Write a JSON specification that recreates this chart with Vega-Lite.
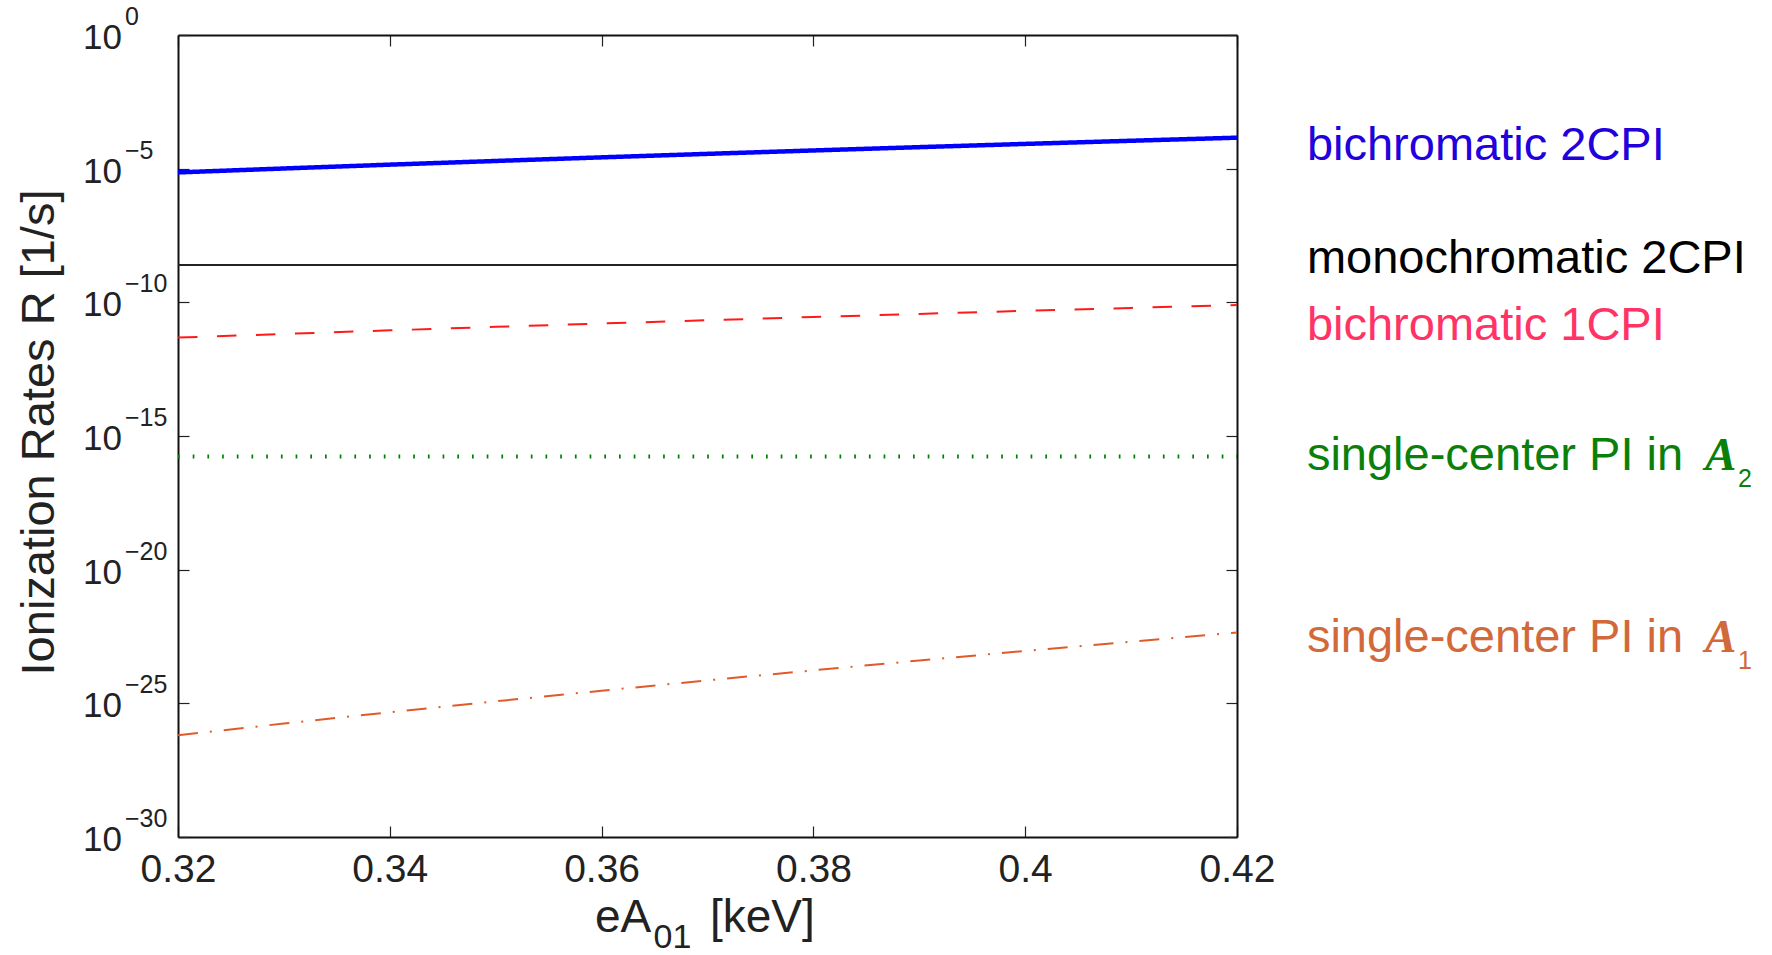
{
  "$schema": "https://vega.github.io/schema/vega-lite/v6.json",
  "width": 1059,
  "height": 802,
  "autosize": {"type": "none"},
  "padding": {"left": 178, "top": 35, "right": 535, "bottom": 118},
  "background": "white",
  "config": {
    "view": {"stroke": null},
    "font": "Liberation Sans",
    "text": {"font": "Liberation Sans"}
  },
  "datasets": {
    "rates": [
      {"series": "single-center PI in A1", "eA01": 0.32, "R": 6.457e-27},
      {"series": "single-center PI in A1", "eA01": 0.33, "R": 1.754e-26},
      {"series": "single-center PI in A1", "eA01": 0.34, "R": 4.634e-26},
      {"series": "single-center PI in A1", "eA01": 0.35, "R": 1.189e-25},
      {"series": "single-center PI in A1", "eA01": 0.36, "R": 2.965e-25},
      {"series": "single-center PI in A1", "eA01": 0.37, "R": 7.228e-25},
      {"series": "single-center PI in A1", "eA01": 0.38, "R": 1.718e-24},
      {"series": "single-center PI in A1", "eA01": 0.39, "R": 3.999e-24},
      {"series": "single-center PI in A1", "eA01": 0.40, "R": 9.120e-24},
      {"series": "single-center PI in A1", "eA01": 0.41, "R": 2.032e-23},
      {"series": "single-center PI in A1", "eA01": 0.42, "R": 4.446e-23},
      {"series": "single-center PI in A2", "eA01": 0.32, "R": 1.698e-16},
      {"series": "single-center PI in A2", "eA01": 0.37, "R": 1.698e-16},
      {"series": "single-center PI in A2", "eA01": 0.42, "R": 1.698e-16},
      {"series": "bichromatic 1CPI", "eA01": 0.32, "R": 4.786e-12},
      {"series": "bichromatic 1CPI", "eA01": 0.33, "R": 6.577e-12},
      {"series": "bichromatic 1CPI", "eA01": 0.34, "R": 8.954e-12},
      {"series": "bichromatic 1CPI", "eA01": 0.35, "R": 1.208e-11},
      {"series": "bichromatic 1CPI", "eA01": 0.36, "R": 1.614e-11},
      {"series": "bichromatic 1CPI", "eA01": 0.37, "R": 2.143e-11},
      {"series": "bichromatic 1CPI", "eA01": 0.38, "R": 2.825e-11},
      {"series": "bichromatic 1CPI", "eA01": 0.39, "R": 3.690e-11},
      {"series": "bichromatic 1CPI", "eA01": 0.40, "R": 4.797e-11},
      {"series": "bichromatic 1CPI", "eA01": 0.41, "R": 6.194e-11},
      {"series": "bichromatic 1CPI", "eA01": 0.42, "R": 7.943e-11},
      {"series": "monochromatic 2CPI", "eA01": 0.32, "R": 2.512e-9},
      {"series": "monochromatic 2CPI", "eA01": 0.37, "R": 2.512e-9},
      {"series": "monochromatic 2CPI", "eA01": 0.42, "R": 2.512e-9},
      {"series": "bichromatic 2CPI", "eA01": 0.32, "R": 7.244e-6},
      {"series": "bichromatic 2CPI", "eA01": 0.33, "R": 1.016e-5},
      {"series": "bichromatic 2CPI", "eA01": 0.34, "R": 1.413e-5},
      {"series": "bichromatic 2CPI", "eA01": 0.35, "R": 1.941e-5},
      {"series": "bichromatic 2CPI", "eA01": 0.36, "R": 2.649e-5},
      {"series": "bichromatic 2CPI", "eA01": 0.37, "R": 3.581e-5},
      {"series": "bichromatic 2CPI", "eA01": 0.38, "R": 4.797e-5},
      {"series": "bichromatic 2CPI", "eA01": 0.39, "R": 6.383e-5},
      {"series": "bichromatic 2CPI", "eA01": 0.40, "R": 8.433e-5},
      {"series": "bichromatic 2CPI", "eA01": 0.41, "R": 1.107e-4},
      {"series": "bichromatic 2CPI", "eA01": 0.42, "R": 1.442e-4}
    ],
    "labels": [
      {"series": "bichromatic 2CPI", "label": "bichromatic 2CPI", "eA01": 0.4266, "R": 2.109e-5},
      {"series": "monochromatic 2CPI", "label": "monochromatic 2CPI", "eA01": 0.4266, "R": 1.247e-9},
      {"series": "bichromatic 1CPI", "label": "bichromatic 1CPI", "eA01": 0.4266, "R": 3.89e-12},
      {"series": "single-center PI in A2", "label": "single-center PI in", "sub": "2", "eA01": 0.4266, "R": 5.32e-17},
      {"series": "single-center PI in A1", "label": "single-center PI in", "sub": "1", "eA01": 0.4266, "R": 8.51e-24}
    ],
    "decades": [
      {"R": 1, "exp": "0"},
      {"R": 1e-5, "exp": "−5"},
      {"R": 1e-10, "exp": "−10"},
      {"R": 1e-15, "exp": "−15"},
      {"R": 1e-20, "exp": "−20"},
      {"R": 1e-25, "exp": "−25"},
      {"R": 1e-30, "exp": "−30"}
    ],
    "xtitle": [
      {"piece": "eA"},
      {"piece": "01"},
      {"piece": "[keV]"}
    ]
  },
  "layer": [
    {
      "data": {"name": "rates"},
      "mark": {"type": "line", "strokeCap": "butt", "clip": false},
      "encoding": {
        "x": {
          "field": "eA01",
          "type": "quantitative",
          "scale": {"domain": [0.32, 0.42], "nice": false, "zero": false},
          "axis": {
            "orient": "bottom",
            "values": [0.32, 0.34, 0.36, 0.38, 0.4, 0.42],
            "format": "~g",
            "title": null,
            "grid": false,
            "labelFlush": false,
            "labelOverlap": false,
            "labelFont": "Liberation Sans",
            "labelFontSize": 39,
            "labelColor": "#222222",
            "labelBaseline": "alphabetic",
            "labelPadding": 55,
            "tickSize": -11,
            "tickWidth": 1.2,
            "tickColor": "#222222",
            "domainColor": "#111111",
            "domainWidth": 2
          }
        },
        "y": {
          "field": "R",
          "type": "quantitative",
          "scale": {"type": "log", "domain": [1e-30, 1], "nice": false},
          "axis": {
            "orient": "left",
            "values": [1, 1e-5, 1e-10, 1e-15, 1e-20, 1e-25, 1e-30],
            "labels": false,
            "grid": false,
            "tickSize": -11,
            "tickWidth": 1.2,
            "tickColor": "#222222",
            "domainColor": "#111111",
            "domainWidth": 2,
            "title": "Ionization Rates R [1/s]",
            "titleFont": "Liberation Sans",
            "titleFontSize": 47,
            "titleFontWeight": "normal",
            "titleColor": "#222222",
            "titleBaseline": "alphabetic",
            "titleAngle": -90,
            "titleX": -125,
            "titleY": 397,
            "titleAlign": "center"
          }
        },
        "stroke": {
          "field": "series",
          "type": "nominal",
          "scale": {
            "domain": ["bichromatic 2CPI", "monochromatic 2CPI", "bichromatic 1CPI", "single-center PI in A2", "single-center PI in A1"],
            "range": ["#0000ff", "#222222", "#ff1a1a", "#008000", "#e05a2b"]
          },
          "legend": null
        },
        "strokeDash": {
          "field": "series",
          "type": "nominal",
          "scale": {
            "domain": ["bichromatic 2CPI", "monochromatic 2CPI", "bichromatic 1CPI", "single-center PI in A2", "single-center PI in A1"],
            "range": [[1, 0], [1, 0], [19.5, 19.5], [1.7, 13], [20, 12, 2, 12]]
          },
          "legend": null
        },
        "strokeWidth": {
          "field": "series",
          "type": "nominal",
          "scale": {
            "type": "ordinal",
            "domain": ["bichromatic 2CPI", "monochromatic 2CPI", "bichromatic 1CPI", "single-center PI in A2", "single-center PI in A1"],
            "range": [4.5, 2, 2, 4, 2]
          },
          "legend": null
        }
      }
    },
    {
      "data": {"name": "labels"},
      "mark": {"type": "text", "align": "left", "baseline": "alphabetic", "fontSize": 47, "font": "Liberation Sans", "clip": false},
      "encoding": {
        "x": {
          "field": "eA01",
          "type": "quantitative",
          "axis": {
            "orient": "top",
            "values": [0.32, 0.34, 0.36, 0.38, 0.4, 0.42],
            "labels": false,
            "title": null,
            "grid": false,
            "tickSize": -11,
            "tickWidth": 1.2,
            "tickColor": "#222222",
            "domainColor": "#111111",
            "domainWidth": 2
          }
        },
        "y": {
          "field": "R",
          "type": "quantitative",
          "axis": {
            "orient": "right",
            "values": [1, 1e-5, 1e-10, 1e-15, 1e-20, 1e-25, 1e-30],
            "labels": false,
            "title": null,
            "grid": false,
            "tickSize": -11,
            "tickWidth": 1.2,
            "tickColor": "#222222",
            "domainColor": "#111111",
            "domainWidth": 2
          }
        },
        "fill": {
          "field": "series",
          "type": "nominal",
          "scale": {
            "domain": ["bichromatic 2CPI", "monochromatic 2CPI", "bichromatic 1CPI", "single-center PI in A2", "single-center PI in A1"],
            "range": ["#2200dd", "#000000", "#ff3366", "#0a800a", "#d2693a"]
          },
          "legend": null
        },
        "text": {"field": "label"}
      }
    },
    {
      "data": {"name": "labels"},
      "transform": [{"filter": "isValid(datum.sub)"}],
      "mark": {"type": "text", "align": "left", "baseline": "alphabetic", "fontSize": 47, "font": "Liberation Serif", "fontStyle": "italic", "fontWeight": "bold", "dx": 398, "clip": false},
      "encoding": {
        "x": {"field": "eA01", "type": "quantitative", "axis": null},
        "y": {"field": "R", "type": "quantitative", "axis": null},
        "fill": {"field": "series", "type": "nominal", "legend": null},
        "text": {"value": "A"}
      }
    },
    {
      "data": {"name": "labels"},
      "transform": [{"filter": "isValid(datum.sub)"}],
      "mark": {"type": "text", "align": "left", "baseline": "alphabetic", "fontSize": 25, "font": "Liberation Sans", "dx": 431, "dy": 17, "clip": false},
      "encoding": {
        "x": {"field": "eA01", "type": "quantitative", "axis": null},
        "y": {"field": "R", "type": "quantitative", "axis": null},
        "fill": {"field": "series", "type": "nominal", "legend": null},
        "text": {"field": "sub"}
      }
    },
    {
      "data": {"name": "decades"},
      "mark": {"type": "text", "align": "right", "baseline": "alphabetic", "fontSize": 35, "font": "Liberation Sans", "color": "#222222", "dx": -56, "dy": 14, "clip": false},
      "encoding": {
        "x": {"datum": 0.32, "type": "quantitative", "axis": null},
        "y": {"field": "R", "type": "quantitative", "axis": null},
        "text": {"value": "10"}
      }
    },
    {
      "data": {"name": "decades"},
      "mark": {"type": "text", "align": "left", "baseline": "alphabetic", "fontSize": 25, "font": "Liberation Sans", "color": "#222222", "dx": -53, "dy": -10, "clip": false},
      "encoding": {
        "x": {"datum": 0.32, "type": "quantitative", "axis": null},
        "y": {"field": "R", "type": "quantitative", "axis": null},
        "text": {"field": "exp"}
      }
    },
    {
      "data": {"name": "xtitle"},
      "transform": [{"filter": "datum.piece === 'eA'"}],
      "mark": {"type": "text", "align": "left", "baseline": "alphabetic", "fontSize": 46, "font": "Liberation Sans", "color": "#222222", "dx": -112.5, "dy": 95, "clip": false},
      "encoding": {
        "x": {"datum": 0.37, "type": "quantitative", "axis": null},
        "y": {"datum": 1e-30, "type": "quantitative", "axis": null},
        "text": {"field": "piece"}
      }
    },
    {
      "data": {"name": "xtitle"},
      "transform": [{"filter": "datum.piece === '01'"}],
      "mark": {"type": "text", "align": "left", "baseline": "alphabetic", "fontSize": 34, "font": "Liberation Sans", "color": "#222222", "dx": -54, "dy": 111, "clip": false},
      "encoding": {
        "x": {"datum": 0.37, "type": "quantitative", "axis": null},
        "y": {"datum": 1e-30, "type": "quantitative", "axis": null},
        "text": {"field": "piece"}
      }
    },
    {
      "data": {"name": "xtitle"},
      "transform": [{"filter": "datum.piece === '[keV]'"}],
      "mark": {"type": "text", "align": "left", "baseline": "alphabetic", "fontSize": 46, "font": "Liberation Sans", "color": "#222222", "dx": 2.5, "dy": 95, "clip": false},
      "encoding": {
        "x": {"datum": 0.37, "type": "quantitative", "axis": null},
        "y": {"datum": 1e-30, "type": "quantitative", "axis": null},
        "text": {"field": "piece"}
      }
    }
  ]
}
